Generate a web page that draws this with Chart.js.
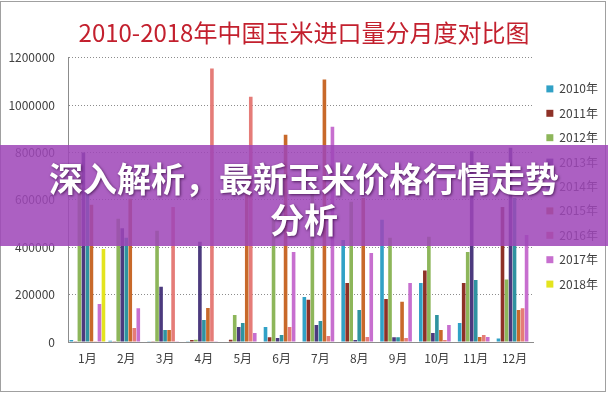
<!DOCTYPE html>
<html><head><meta charset="utf-8">
<script src="https://cdn.jsdelivr.net/npm/chart.js@4"></script>
<style>
html,body{margin:0;padding:0;background:#fff;}
#wrap{position:relative;width:608px;height:393px;overflow:hidden;background:#fff;}
#frame{position:absolute;left:0;top:1px;width:604px;height:389px;border:1px solid #a0a0a0;pointer-events:none;}
#banner{position:absolute;left:0;top:145px;width:608px;height:101px;background:rgba(158,70,184,0.86);}
#banner div{position:absolute;left:0;top:12px;width:608px;text-align:center;color:#fff;font-family:'Noto Sans CJK SC',sans-serif;font-weight:bold;font-size:34px;line-height:41px;text-shadow:1px 1px 3px rgba(40,0,50,0.7);}
canvas{position:absolute;left:0;top:0;}
</style></head>
<body>
<div id="wrap">
<canvas id="c" width="608" height="393"></canvas>
<div id="frame"></div>
<div id="banner"><div>深入解析，最新玉米价格行情走势<br>分析</div></div>
</div>
<script>
const TITLE = '2010-2018年中国玉米进口量分月度对比图';
const categories = ['1月','2月','3月','4月','5月','6月','7月','8月','9月','10月','11月','12月'];
const years = ['2010年','2011年','2012年','2013年','2014年','2015年','2016年','2017年','2018年'];
const s2010 = [8000, 5000, 3000, 3000, 2000, 63000, 190000, 431000, 516000, 249000, 80000, 15000];
const s2011 = [3000, 3000, 3000, 8000, 10000, 20000, 178000, 249000, 182000, 302000, 249000, 570000];
const s2012 = [700000, 520000, 470000, 10000, 114000, 530000, 640000, 592000, 440000, 444000, 380000, 264000];
const s2013 = [800000, 480000, 233000, 423000, 63000, 17000, 72000, 8000, 20000, 38000, 805000, 820000];
const s2014 = [640000, 440000, 51000, 93000, 80000, 30000, 89000, 135000, 20000, 114000, 262000, 608000];
const s2015 = [580000, 605000, 51000, 144000, 700000, 875000, 1108000, 608000, 170000, 51000, 21000, 135000];
const s2016 = [3000, 59000, 570000, 1155000, 1036000, 63000, 25000, 21000, 17000, 8000, 30000, 142000];
const s2017 = [160000, 143000, 3000, 3000, 38000, 380000, 909000, 376000, 249000, 72000, 21000, 452000];
const s2018 = [393000, 0, 0, 0, 0, 0, 0, 0, 0, 0, 0, 0];
const yTicks = [0, 200000, 400000, 600000, 800000, 1000000, 1200000];

const seriesValues = [s2010, s2011, s2012, s2013, s2014, s2015, s2016, s2017, s2018];
const colors = ['#31A1C6','#8E3127','#8DB65A','#4C3A7E','#2F93A0','#C8692A','#E57C78','#C76FCF','#E4E41E'];
const FONT = "'Noto Sans CJK SC', 'Noto Sans', sans-serif";

new Chart(document.getElementById('c'), {
  type: 'bar',
  data: {
    labels: categories,
    datasets: years.map((y, i) => ({
      label: y, data: seriesValues[i], backgroundColor: colors[i], borderWidth: 0,
      categoryPercentage: 0.93, barPercentage: 0.9
    }))
  },
  options: {
    responsive: false, animation: false,
    layout: { padding: { left: 0, right: 0, top: 0, bottom: 20 } },
    plugins: {
      title: { display: true, text: TITLE, color: '#C3202E',
        font: { family: FONT, size: 24, weight: 'normal' }, padding: { top: 18, bottom: 11 } },
      legend: { position: 'right', maxWidth: 79,
        labels: { boxWidth: 7, boxHeight: 7, padding: 12.4, color: '#404040', font: { family: FONT, size: 12 } } },
      tooltip: { enabled: false }
    },
    scales: {
      x: {
        grid: { display: false, drawTicks: false },
        border: { color: '#8c8c8c', width: 1 },
        ticks: { color: '#404040', font: { family: FONT, size: 12 }, padding: 9 },
        afterFit: s => { s.height = 31; }
      },
      y: {
        min: 0, max: 1200000,
        afterBuildTicks: s => { s.ticks = yTicks.map(v => ({ value: v })); },
        ticks: { color: '#404040', font: { family: FONT, size: 12 }, padding: 13, callback: v => String(v) },
        grid: { color: '#8c8c8c', lineWidth: 1, drawTicks: false },
        border: { color: '#8c8c8c', width: 1, dash: [1, 2] },
        afterFit: s => { s.width = 68; }
      }
    }
  }
});
</script>
</body></html>
